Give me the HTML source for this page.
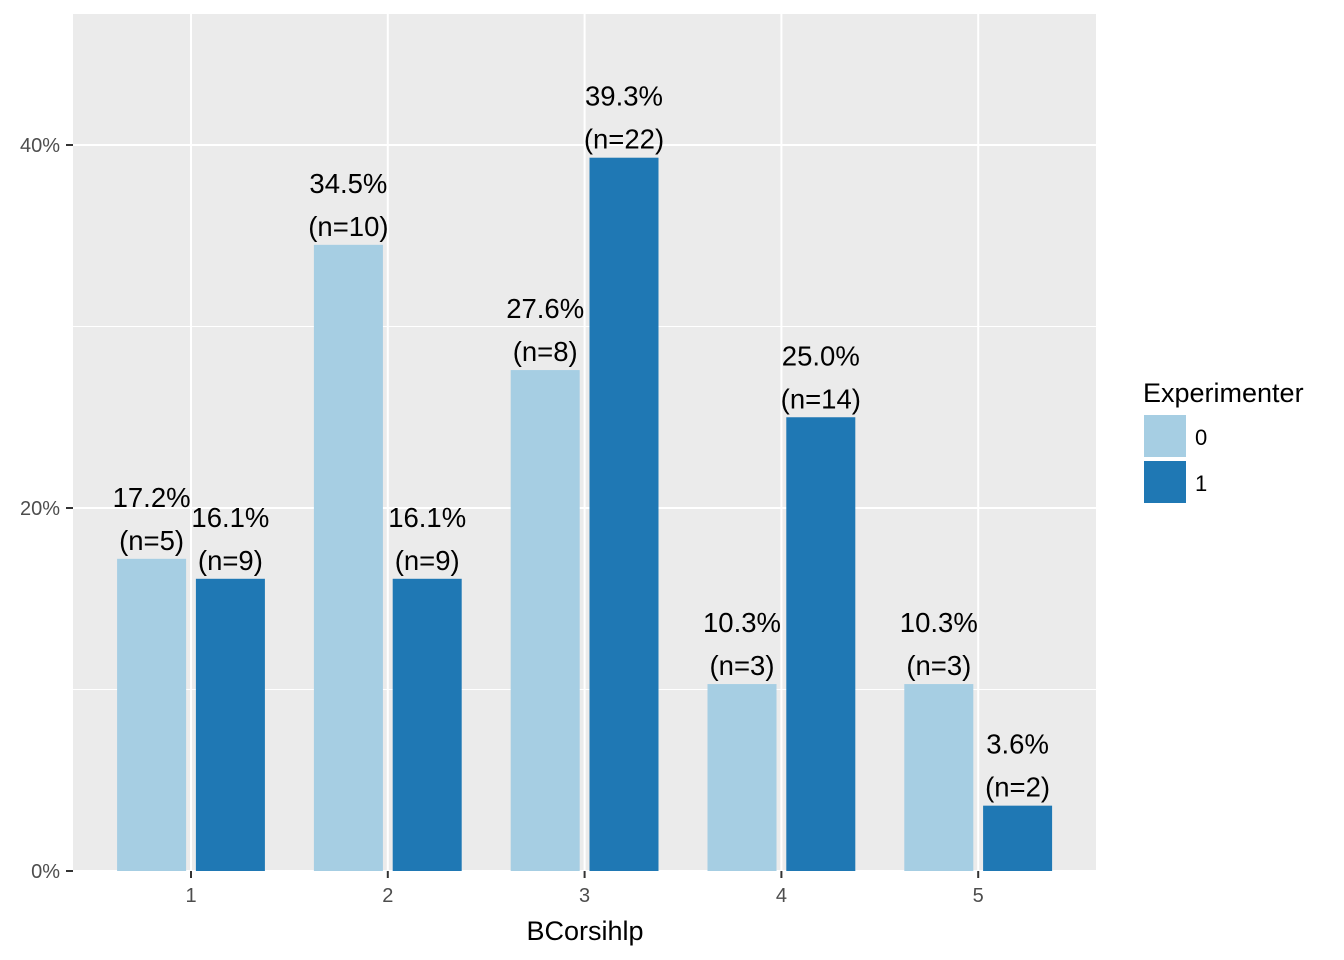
<!DOCTYPE html>
<html><head><meta charset="utf-8"><style>
html,body{margin:0;padding:0;background:#fff;}
svg{display:block;font-family:"Liberation Sans",Arial,sans-serif;}
</style></head><body>
<svg id="chart" width="1344" height="960" viewBox="0 0 1344 960" xmlns="http://www.w3.org/2000/svg">
<rect x="73" y="14" width="1023" height="857" fill="#ebebeb"/>
<g id="grid"></g>
<g id="bars"></g>
<g id="labels"></g>
<g id="axes"></g>
<text x="585" y="940" font-size="27" text-anchor="middle" fill="#000">BCorsihlp</text>
<g>
<text x="1143" y="402" font-size="27" fill="#000">Experimenter</text>
<rect x="1144" y="415" width="42" height="42" fill="#a6cee3"/>
<rect x="1144" y="461" width="42" height="42" fill="#1f78b4"/>
<text x="1195" y="445" font-size="22" fill="#000">0</text>
<text x="1195" y="491" font-size="22" fill="#000">1</text>
</g>
</svg>
<script>
const categories = ["1","2","3","4","5"];
const series0 = [17.2, 34.5, 27.6, 10.3, 10.3];
const series1 = [16.1, 16.1, 39.3, 25.0, 3.6];
const counts0 = [5, 10, 8, 3, 3];
const counts1 = [9, 9, 22, 14, 2];
const yTicks = [0, 20, 40];
const yMinor = [10, 30];
const colors = ["#a6cee3", "#1f78b4"];

const NS = "http://www.w3.org/2000/svg";
const y = v => 871 - v * 18.15;
const x = i => 191 + i * 196.8;
const px0 = 73, px1 = 1096;
function mk(tag, attrs, parent) { const e = document.createElementNS(NS, tag); for (const k in attrs) e.setAttribute(k, attrs[k]); parent.appendChild(e); return e; }
const grid = document.getElementById('grid'), bars = document.getElementById('bars'), labels = document.getElementById('labels'), axes = document.getElementById('axes');

yMinor.forEach(v => { const l = mk('line', {x1: px0, x2: px1, y1: y(v), y2: y(v), stroke: '#fff', 'stroke-width': 1}, grid);
  });
yTicks.forEach(v => {
  const l = mk('line', {x1: px0, x2: px1, y1: y(v), y2: y(v), stroke: '#fff', 'stroke-width': 2}, grid);
   
  const t = mk('line', {x1: 66, x2: 73, y1: y(v), y2: y(v), stroke: '#333', 'stroke-width': 2}, axes);
   
  const tx = mk('text', {x: 60, y: y(v) + 7, 'font-size': 20, 'text-anchor': 'end', fill: '#4d4d4d'}, axes);
  tx.textContent = v + '%';
   
});
categories.forEach((c, i) => {
  const l = mk('line', {x1: x(i), x2: x(i), y1: 14, y2: 871, stroke: '#fff', 'stroke-width': 2}, grid);
   
  const t = mk('line', {x1: x(i), x2: x(i), y1: 871, y2: 878, stroke: '#333', 'stroke-width': 2}, axes);
   
  const tx = mk('text', {x: x(i), y: 902, 'font-size': 20, 'text-anchor': 'middle', fill: '#4d4d4d'}, axes);
  tx.textContent = c;
   
  [[series0, counts0, -39.4], [series1, counts1, 39.4]].forEach(([s, n, off], k) => {
    const cx = x(i) + off, w = 69;
    const b = mk('rect', {x: cx - w / 2, y: y(s[i]), width: w, height: y(0) - y(s[i]), fill: colors[k]}, bars);
     
    const t1 = mk('text', {x: cx, y: y(s[i]) - 52, 'font-size': 27.5, 'text-anchor': 'middle', fill: '#000'}, labels);
    t1.textContent = s[i].toFixed(1) + '%';
     
    const t2 = mk('text', {x: cx, y: y(s[i]) - 9, 'font-size': 27.5, 'text-anchor': 'middle', fill: '#000'}, labels);
    t2.textContent = '(n=' + n[i] + ')';
     
  });
});
</script>
</body></html>
